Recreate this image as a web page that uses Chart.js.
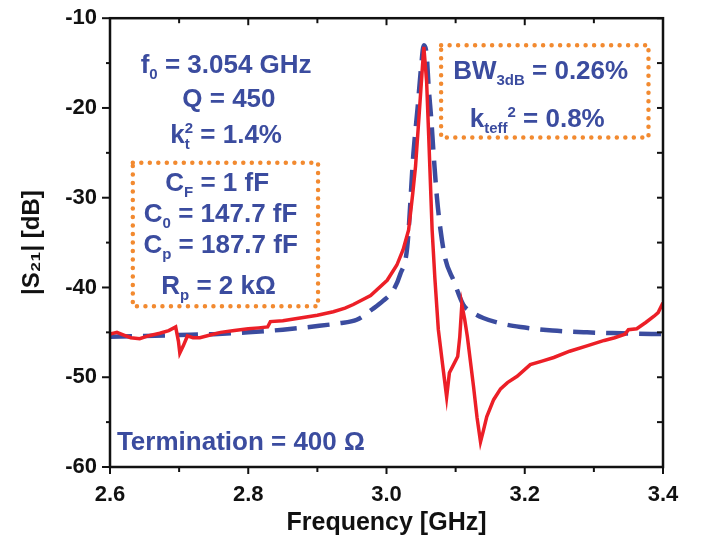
<!DOCTYPE html>
<html>
<head>
<meta charset="utf-8">
<script src="https://cdn.jsdelivr.net/npm/chart.js@4"></script>
<style>
  html, body { margin: 0; padding: 0; background: #fff; }
</style>
</head>
<body>
<canvas id="s21Chart" width="706" height="546"></canvas>
<script>
// --- data ---
const freqMeasured = [2.600, 2.610, 2.620, 2.630, 2.643, 2.655, 2.672, 2.685, 2.695, 2.699, 2.701, 2.706, 2.712, 2.720,
  2.730, 2.745, 2.760, 2.780, 2.800, 2.815, 2.828, 2.832, 2.850, 2.875, 2.900, 2.923, 2.940, 2.952, 2.977, 3.001,
  3.015, 3.024, 3.032, 3.038, 3.042, 3.047, 3.051, 3.054, 3.058, 3.061, 3.066, 3.070, 3.075, 3.081, 3.087, 3.091,
  3.095, 3.103, 3.106, 3.109, 3.113, 3.117, 3.126, 3.131, 3.136, 3.140, 3.145, 3.155, 3.165, 3.175, 3.189, 3.208,
  3.225, 3.242, 3.265, 3.290, 3.315, 3.330, 3.345, 3.350, 3.362, 3.375, 3.387, 3.393, 3.400];
const s21Measured = [-45.2, -45.0, -45.3, -45.6, -45.7, -45.4, -45.1, -44.8, -44.4, -46.0, -47.3, -46.5, -45.4, -45.6,
  -45.6, -45.3, -45.0, -44.8, -44.6, -44.5, -44.4, -43.8, -43.7, -43.4, -43.1, -42.7, -42.3, -41.9, -40.9, -39.2,
  -37.5, -35.8, -33.6, -29.5, -26.5, -21.0, -16.5, -13.2, -17.0, -23.0, -33.6, -39.0, -44.7, -48.5, -52.2, -49.5,
  -48.9, -47.7, -45.5, -41.9, -43.5, -45.5, -51.1, -54.5, -57.2, -56.0, -54.4, -52.5, -51.3, -50.6, -49.9, -48.6,
  -48.2, -47.8, -47.1, -46.5, -45.9, -45.6, -45.2, -44.7, -44.6, -43.9, -43.2, -42.8, -41.7];

const freqModel = [2.600, 2.650, 2.700, 2.750, 2.800, 2.850, 2.900, 2.930, 2.957, 2.980, 2.995, 3.010, 3.020, 3.030,
  3.039, 3.045, 3.050, 3.054, 3.058, 3.061, 3.065, 3.068, 3.073, 3.078, 3.085, 3.097, 3.111, 3.125, 3.140, 3.165,
  3.194, 3.240, 3.290, 3.340, 3.400];
const s21Model = [-45.5, -45.4, -45.3, -45.2, -45.0, -44.7, -44.3, -44.0, -43.6, -42.4, -41.5, -40.3, -38.5, -35.5,
  -25.0, -20.0, -15.5, -13.0, -14.0, -17.7, -21.5, -25.0, -30.0, -33.5, -36.8, -39.2, -41.9, -42.8, -43.4, -44.0,
  -44.4, -44.8, -45.0, -45.1, -45.2];

const xTickLabels = ['2.6', '2.8', '3.0', '3.2', '3.4'];
const yTickLabels = ['-10', '-20', '-30', '-40', '-50', '-60'];

const RED = '#ec1f27';
const BLUE = '#3b4c9f';
const ORANGE = '#f28a30';
const FONT = '"Liberation Sans", Arial, sans-serif';

// text blocks: [text, mode] where mode is '' / 'sub' / 'sup' / 'subk' (sub that does not advance)
const notes = [
  { f: 2.768, db: -15.0, align: 'center', parts: [['f', ''], ['0', 'sub'], [' = 3.054 GHz', '']] },
  { f: 2.772, db: -18.8, align: 'center', parts: [['Q = 450', '']] },
  { f: 2.768, db: -22.8, align: 'center', parts: [['k', ''], ['t', 'subk'], ['2', 'sup'], [' = 1.4%', '']] },
  { f: 2.755, db: -28.2, align: 'center', parts: [['C', ''], ['F', 'sub'], [' = 1 fF', '']] },
  { f: 2.760, db: -31.7, align: 'center', parts: [['C', ''], ['0', 'sub'], [' = 147.7 fF', '']] },
  { f: 2.760, db: -35.1, align: 'center', parts: [['C', ''], ['p', 'sub'], [' = 187.7 fF', '']] },
  { f: 2.757, db: -39.7, align: 'center', parts: [['R', ''], ['p', 'sub'], [' = 2 k\u03A9', '']] },
  { f: 3.223, db: -15.7, align: 'center', parts: [['BW', ''], ['3dB', 'sub'], [' = 0.26%', '']] },
  { f: 3.218, db: -21.1, align: 'center', parts: [['k', ''], ['teff', 'sub'], ['2', 'sup'], [' = 0.8%', '']] },
  { f: 2.610, db: -57.0, align: 'left', parts: [['Termination = 400 \u03A9', '']] }
];
const boxes = [
  { f1: 2.633, f2: 2.901, db1: -26.1, db2: -42.1 },
  { f1: 3.079, f2: 3.379, db1: -13.0, db2: -23.3 }
];

function drawRich(ctx, parts, px, py, align) {
  const big = 'bold 26px ' + FONT;
  const small = 'bold 15px ' + FONT;
  let total = 0;
  const adv = parts.map(p => {
    ctx.font = p[1] ? small : big;
    const w = ctx.measureText(p[0]).width;
    const a = p[1] === 'subk' ? 0 : w;
    total += a;
    return a;
  });
  let cx = align === 'center' ? px - total / 2 : px;
  const base = py + 9.5;
  ctx.textAlign = 'left';
  ctx.textBaseline = 'alphabetic';
  parts.forEach((p, i) => {
    let dy = 0;
    if (p[1] === 'sub' || p[1] === 'subk') dy = 6;
    if (p[1] === 'sup') dy = -10;
    ctx.font = p[1] ? small : big;
    ctx.fillText(p[0], cx, base + dy);
    cx += adv[i];
  });
}

const framePlugin = {
  id: 'framePlugin',
  afterDraw(chart) {
    const { ctx, chartArea: a, scales: { x, y } } = chart;
    ctx.save();
    ctx.strokeStyle = '#111';
    ctx.lineWidth = 2;
    const seg = (x1, y1, x2, y2) => { ctx.beginPath(); ctx.moveTo(x1, y1); ctx.lineTo(x2, y2); ctx.stroke(); };
    x.ticks.forEach(t => {
      const px = x.getPixelForValue(t.value);
      const len = t.label ? 7 : 5;
      seg(px, a.bottom, px, a.bottom + len);
      seg(px, a.top, px, a.top + len);
    });
    y.ticks.forEach(t => {
      const py = y.getPixelForValue(t.value);
      const len = t.label ? 8 : 4;
      seg(a.left - len, py, a.left, py);
      seg(a.right - 6, py, a.right, py);
    });
    ctx.lineWidth = 2.5;
    ctx.strokeRect(a.left, a.top, a.right - a.left, a.bottom - a.top);

    // dotted orange boxes
    ctx.strokeStyle = ORANGE;
    ctx.lineWidth = 4.5;
    ctx.lineCap = 'round';
    ctx.setLineDash([0, 8.5]);
    boxes.forEach(b => {
      const l = x.getPixelForValue(b.f1), r = x.getPixelForValue(b.f2);
      const t = y.getPixelForValue(b.db1), bt = y.getPixelForValue(b.db2);
      ctx.strokeRect(l, t, r - l, bt - t);
    });
    ctx.setLineDash([]);

    ctx.fillStyle = BLUE;
    notes.forEach(n => drawRich(ctx, n.parts, x.getPixelForValue(n.f), y.getPixelForValue(n.db), n.align));
    ctx.restore();
  }
};

new Chart(document.getElementById('s21Chart'), {
  type: 'line',
  data: {
    datasets: [
      {
        label: 'Measured',
        data: freqMeasured.map((f, i) => ({ x: f, y: s21Measured[i] })),
        borderColor: RED,
        borderWidth: 3.5,
        pointRadius: 0,
        tension: 0
      },
      {
        label: 'Model',
        data: freqModel.map((f, i) => ({ x: f, y: s21Model[i] })),
        borderColor: BLUE,
        borderWidth: 4.5,
        borderDash: [22, 11],
        pointRadius: 0,
        cubicInterpolationMode: 'monotone'
      }
    ]
  },
  options: {
    responsive: false,
    animation: false,
    devicePixelRatio: 1,
    layout: { padding: { top: 18, right: 43, left: 0, bottom: 0 } },
    plugins: { legend: { display: false }, tooltip: { enabled: false } },
    scales: {
      x: {
        type: 'linear',
        min: 2.6,
        max: 3.4,
        afterFit: s => { s.height = 79; },
        grid: { display: false, tickLength: 8 },
        border: { display: false },
        ticks: {
          stepSize: 0.1,
          autoSkip: false,
          maxRotation: 0,
          padding: 7,
          color: '#111',
          font: { family: FONT, size: 22, weight: 'bold' },
          callback: v => {
            const s = v.toFixed(1);
            return xTickLabels.includes(s) ? s : '';
          }
        },
        title: {
          display: true,
          text: 'Frequency [GHz]',
          color: '#111',
          font: { family: FONT, size: 25, weight: 'bold' },
          padding: { top: 0, bottom: 8 }
        }
      },
      y: {
        min: -60,
        max: -10,
        afterFit: s => { s.width = 110; },
        grid: { display: false, tickLength: 8 },
        border: { display: false },
        ticks: {
          stepSize: 5,
          autoSkip: false,
          padding: 5,
          color: '#111',
          font: { family: FONT, size: 22, weight: 'bold' },
          callback: v => yTickLabels.includes(String(v)) ? String(v) : ''
        },
        title: {
          display: true,
          text: '|S\u2082\u2081| [dB]',
          color: '#111',
          font: { family: FONT, size: 24, weight: 'bold' },
          padding: { top: 18, bottom: 0 }
        }
      }
    }
  },
  plugins: [framePlugin]
});
</script>
</body>
</html>
